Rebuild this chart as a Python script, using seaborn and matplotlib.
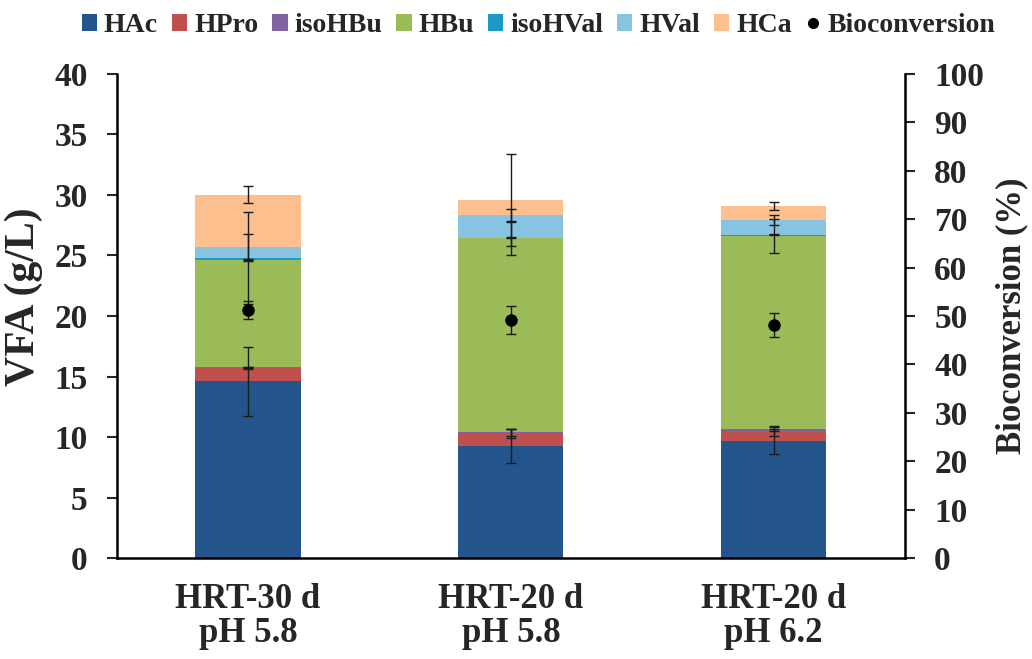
import numpy as np
import pandas as pd
import matplotlib
matplotlib.use('Agg')
import matplotlib.pyplot as plt
import seaborn as sns
from matplotlib.patches import Patch
from matplotlib.lines import Line2D

sns.set_style('white')
plt.rcParams['font.family'] = ['Liberation Serif', 'DejaVu Serif']
plt.rcParams['font.weight'] = 'bold'

# data (g/L, stacked)
conditions = ['HRT-30 d\npH 5.8', 'HRT-20 d\npH 5.8', 'HRT-20 d\npH 6.2']
acids = ['HAc', 'HPro', 'isoHBu', 'HBu', 'isoHVal', 'HVal', 'HCa']
HAc = [14.6, 9.3, 9.7]
HPro = [1.1, 1.0, 0.7]
isoHBu = [0.05, 0.1, 0.3]
HBu = [8.85, 16.0, 15.9]
isoHVal = [0.2, 0.05, 0.1]
HVal = [0.9, 1.9, 1.25]
HCa = [4.3, 1.25, 1.15]

HAc_err = [2.85, 1.4, 1.1]
HPro_err = [0.1, 0.4, 0.3]
isoHBu_err = [0.05, 0.3, 0.2]
HBu_err = [0.1, 1.35, 1.4]
isoHVal_err = [3.8, 0.05, 0.05]
HVal_err = [1.1, 0.5, 0.4]
HCa_err = [0.7, 3.8, 0.35]

bioconversion = [51.2, 49.1, 48.1]
bioconversion_err = [1.9, 2.9, 2.5]

colors = ['#24548c', '#c0504d', '#8064a2', '#9bbb59', '#1a9ac9', '#88c4df', '#fdbf8d']

values = [HAc, HPro, isoHBu, HBu, isoHVal, HVal, HCa]
errors = [HAc_err, HPro_err, isoHBu_err, HBu_err, isoHVal_err, HVal_err, HCa_err]

fig = plt.figure(figsize=(10.32, 6.59), dpi=100)
ax = fig.add_axes([0.113, 0.153, 0.764, 0.735])

x = np.arange(len(conditions))
bottom = np.zeros(len(conditions))
for name, vals, errs, col in zip(acids, values, errors, colors):
    df = pd.DataFrame({'cond': conditions, 'val': vals})
    sns.barplot(data=df, x='cond', y='val', color=col, width=0.4, bottom=bottom,
                saturation=1, ax=ax, linewidth=0)
    tops = bottom + np.array(vals)
    ax.errorbar(x, tops, yerr=errs, fmt='none', ecolor='#1a1a1a', elinewidth=1,
                capsize=3.6, capthick=1, zorder=5)
    bottom = tops

ax.set_xlim(-0.5, 2.5)
ax.set_ylim(0, 40)
ax.set_yticks(np.arange(0, 41, 5))
ax.set_xlabel('')
ax.set_ylabel('VFA (g/L)', fontsize=30, fontweight='bold')
ax.yaxis.set_label_coords(-0.094, 0.54)
ax.tick_params(axis='y', direction='out', length=7, width=1.5, pad=14, labelsize=24, left=True)
ax.tick_params(axis='x', length=0, pad=18, labelsize=25)
for lab in ax.get_xticklabels():
    lab.set_linespacing(1.05)
    lab.set_fontweight('bold')
for lab in ax.get_yticklabels():
    lab.set_fontweight('bold')
for s in ['left', 'bottom']:
    ax.spines[s].set_linewidth(1.8)
    ax.spines[s].set_color('black')
ax.spines['top'].set_visible(False)
ax.spines['right'].set_visible(False)

ax2 = ax.twinx()
ax2.errorbar(x, bioconversion, yerr=bioconversion_err, fmt='o', color='black',
             markersize=8, ecolor='#1a1a1a', elinewidth=1, capsize=3.6, capthick=1, zorder=6)
ax2.set_ylim(0, 100)
ax2.set_yticks(np.arange(0, 101, 10))
ax2.set_ylabel('Bioconversion (%)', fontsize=25, fontweight='bold', labelpad=8)
ax2.tick_params(axis='y', direction='out', length=7, width=1.5, pad=14, labelsize=24, right=True)
for lab in ax2.get_yticklabels():
    lab.set_fontweight('bold')
ax2.spines['right'].set_linewidth(1.8)
ax2.spines['right'].set_color('black')
for s in ['top', 'left', 'bottom']:
    ax2.spines[s].set_visible(False)

handles = [Patch(facecolor=c, edgecolor='none', label=n) for n, c in zip(acids, colors)]
handles.append(Line2D([], [], marker='o', color='black', linestyle='none', markersize=7,
                      label='Bioconversion'))
fig.legend(handles=handles, loc='upper center', bbox_to_anchor=(0.522, 1.005), ncol=8,
           frameon=False, fontsize=20, handlelength=0.55, handleheight=0.55,
           handletextpad=0.25, columnspacing=0.5, borderaxespad=0.2)

fig.savefig('out.png', dpi=100, facecolor='white')
